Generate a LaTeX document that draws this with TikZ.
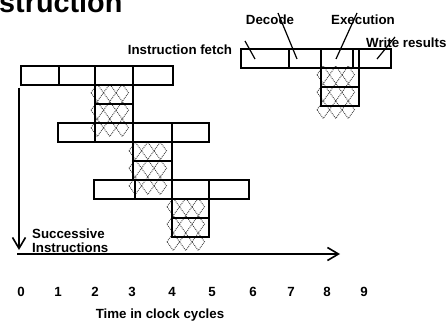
\documentclass[tikz,border=0pt]{standalone}
\usepackage{fontspec}
\setmainfont{Liberation Sans}
\usetikzlibrary{arrows.meta,positioning}

\tikzset{
  stage/.style={line width=1.6pt},
  hatchdia/.style={densely dotted, line width=0.9pt, black!75},
  lead/.style={line width=1.2pt},
  lbl/.style={font=\fontsize{13.3}{15}\selectfont\bfseries, inner sep=0pt},
  axis/.style={line width=1.6pt, -{Straight Barb[length=11pt,width=13pt]}}
}
% 3x3 dotted diamonds, top left corner at (#1,#2)
\newcommand{\xhatch}[2]{%
  \foreach \i in {0,1,2}
    \foreach \j in {0,1,2}
      \draw[hatchdia] ({#1+12.5*\i},{#2+17.5*\j+8.75}) -- ++(6.25,-8.75)
        -- ++(6.25,8.75) -- ++(-6.25,8.75) -- cycle;
}

\begin{document}
\begin{tikzpicture}[x=1pt,y=-1pt]
  \useasboundingbox (0,0) rectangle (446,323);

  \node[font=\fontsize{28.8}{30}\selectfont\bfseries, anchor=base west, inner sep=0pt]
    (title) at (-1,13) {struction};

  % stalled stages
  \xhatch{91}{84}
  \xhatch{129}{142}
  \xhatch{167}{198}
  \xhatch{317}{66}

  % legend pipeline
  \begin{scope}
    \draw[stage] (241,49) rectangle (391,68);
    \foreach \x in {289,321,353,359}
      \draw[stage] (\x,49) -- (\x,68);
    \draw[stage] (321,68) rectangle (359,87) (321,87) rectangle (359,106);
    \node[lbl, anchor=base] (fetch) at (180,55) {Instruction fetch};
    \node[lbl, anchor=base] (decode) at (270,25) {Decode};
    \node[lbl, anchor=base] (exec) at (363,25) {Execution};
    \node[lbl, anchor=base west] (write) at (366,48) {Write results};
    \draw[lead] (245,41) coordinate (f1) -- (255,59) coordinate (f2);
    \draw[lead] (278,13) coordinate (d1) -- (297,59) coordinate (d2);
    \draw[lead] (357,13) coordinate (e1) -- (336,59) coordinate (e2);
    \draw[lead] (395,37) coordinate (w1) -- (377,59) coordinate (w2);
  \end{scope}

  % instruction 1
  \draw[stage] (21,66) rectangle (173,85);
  \foreach \x in {59,95,133}
    \draw[stage] (\x,66) -- (\x,85);
  \draw[stage] (95,85) rectangle (133,104) (95,104) rectangle (133,123);

  % instruction 2
  \draw[stage] (58,123) rectangle (209,142);
  \foreach \x in {95,133,172}
    \draw[stage] (\x,123) -- (\x,142);
  \draw[stage] (133,142) rectangle (172,161) (133,161) rectangle (172,180);

  % instruction 3
  \draw[stage] (94,180) rectangle (249,199);
  \foreach \x in {135,172,209}
    \draw[stage] (\x,180) -- (\x,199);
  \draw[stage] (172,199) rectangle (209,218) (172,218) rectangle (209,237);

  % axes
  \coordinate (vtop) at (19,88);
  \coordinate (vbot) at (19,250);
  \coordinate (hleft) at (17,254);
  \coordinate (hright) at (340,254);
  \draw[axis] (vtop) -- (vbot);
  \draw[axis] (hleft) -- (hright);
  \node[lbl, anchor=base west] (succ) at (32,238) {Successive};
  \node[lbl, anchor=base west] (instr) at (32,252) {Instructions};

  \foreach \n/\x in {0/21,1/58,2/95,3/132,4/172,5/212,6/253,7/291,8/327,9/364}
    \node[lbl, anchor=base] (t\n) at (\x,296) {\n};
  \node[lbl, anchor=base] (time) at (160,318) {Time in clock cycles};
\end{tikzpicture}
\end{document}
